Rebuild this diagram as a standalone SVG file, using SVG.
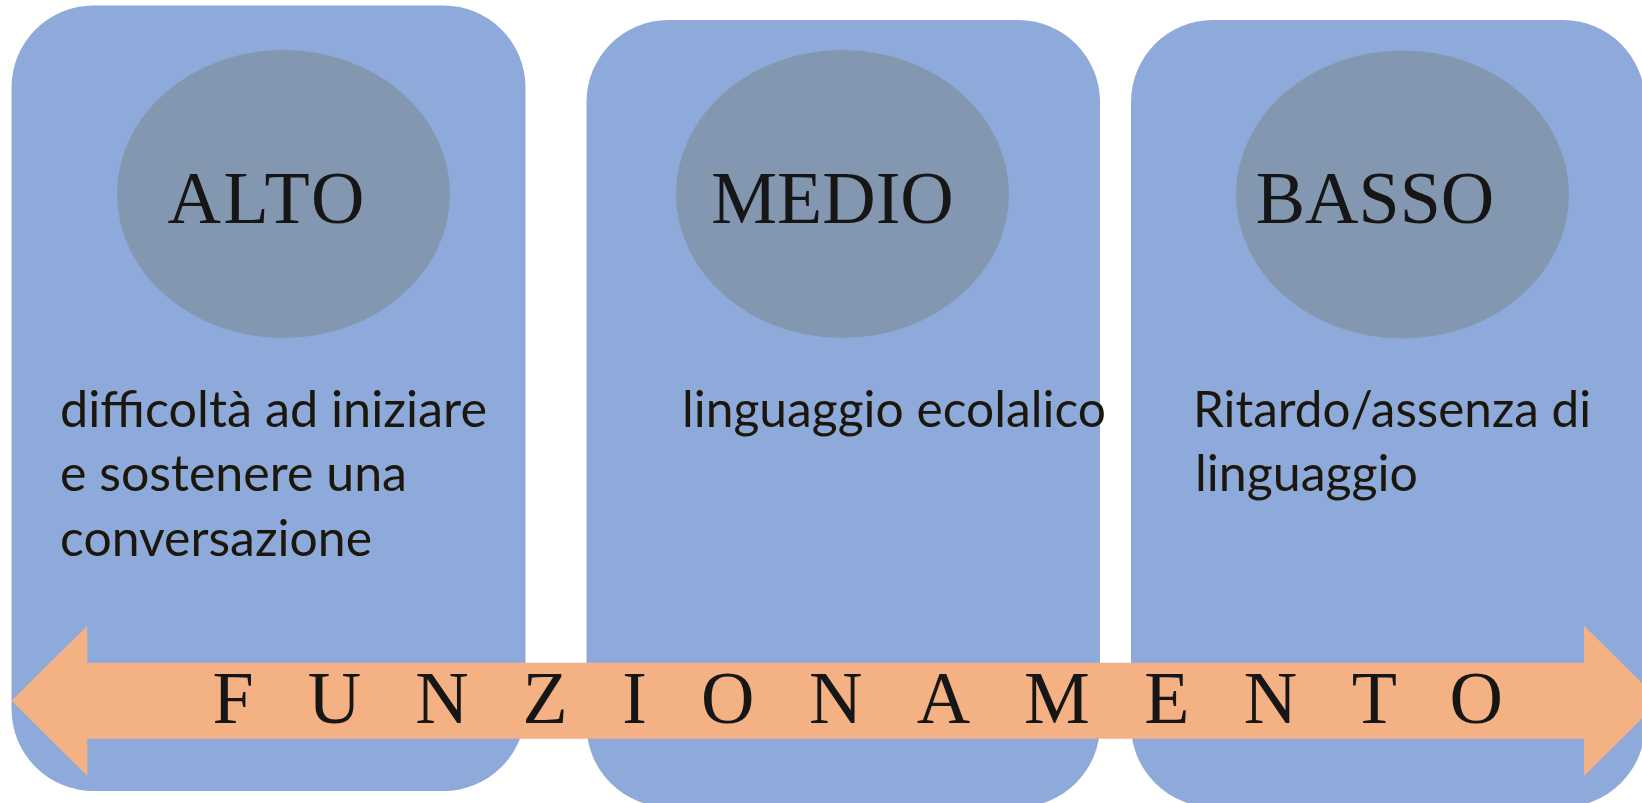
<svg xmlns="http://www.w3.org/2000/svg" width="1642" height="803" viewBox="0 0 1642 803">
<style>
.box{fill:#8EAADB}
.ell{fill:#8497B0}
.title{font-family:"Liberation Serif","Times New Roman",serif;font-size:74px;fill:#161616;text-anchor:middle}
.body{font-family:Lato,"Open Sans",sans-serif;font-size:50.5px;fill:#1B170C}
.arrow{fill:#F4B183}
.lbl{font-family:"Liberation Serif","Times New Roman",serif;font-size:74px;fill:#161616;text-anchor:middle}
</style>
<rect width="1642" height="803" fill="#FFFFFF"/>
<g id="node-alto">
<rect class="box" x="11.5" y="5.5" width="514" height="785.5" rx="82" ry="82"/>
<ellipse class="ell" cx="283.5" cy="194" rx="166.5" ry="144"/>
<text class="title" x="266" y="223" textLength="197" lengthAdjust="spacing">ALTO</text>
<text class="body" x="60" y="427" textLength="427" lengthAdjust="spacingAndGlyphs">difficoltà ad iniziare</text>
<text class="body" x="60" y="491" textLength="347" lengthAdjust="spacingAndGlyphs">e sostenere una</text>
<text class="body" x="60" y="556" textLength="312" lengthAdjust="spacingAndGlyphs">conversazione</text>
</g>
<g id="node-medio">
<rect class="box" x="586.5" y="20" width="513.5" height="787" rx="82" ry="82"/>
<ellipse class="ell" cx="842.5" cy="194" rx="166.5" ry="144"/>
<text class="title" x="832.5" y="223">MEDIO</text>
<text class="body" x="682" y="427" textLength="424" lengthAdjust="spacingAndGlyphs">linguaggio ecolalico</text>
</g>
<g id="node-basso">
<rect class="box" x="1131" y="20" width="514" height="787" rx="82" ry="82"/>
<ellipse class="ell" cx="1402.5" cy="194.5" rx="166.5" ry="144"/>
<text class="title" x="1375" y="223">BASSO</text>
<text class="body" x="1193" y="427" textLength="398" lengthAdjust="spacingAndGlyphs">Ritardo/assenza di</text>
<text class="body" x="1195" y="491" textLength="223" lengthAdjust="spacingAndGlyphs">linguaggio</text>
</g>
<g id="connectors">
<polygon class="arrow" points="11.5,700.7 87.3,625.7 87.3,662.7 1584,662.7 1584,625.7 1660,700.7 1584,776 1584,738.7 87.3,738.7 87.3,776"/>
<text class="lbl" y="722.7"><tspan x="233">F</tspan><tspan x="334.4">U</tspan><tspan x="441.9">N</tspan><tspan x="545">Z</tspan><tspan x="634.5">I</tspan><tspan x="727.8">O</tspan><tspan x="835.7">N</tspan><tspan x="943.4">A</tspan><tspan x="1057">M</tspan><tspan x="1166.9">E</tspan><tspan x="1270.4">N</tspan><tspan x="1374.3">T</tspan><tspan x="1476.3">O</tspan></text>
</g>
</svg>
